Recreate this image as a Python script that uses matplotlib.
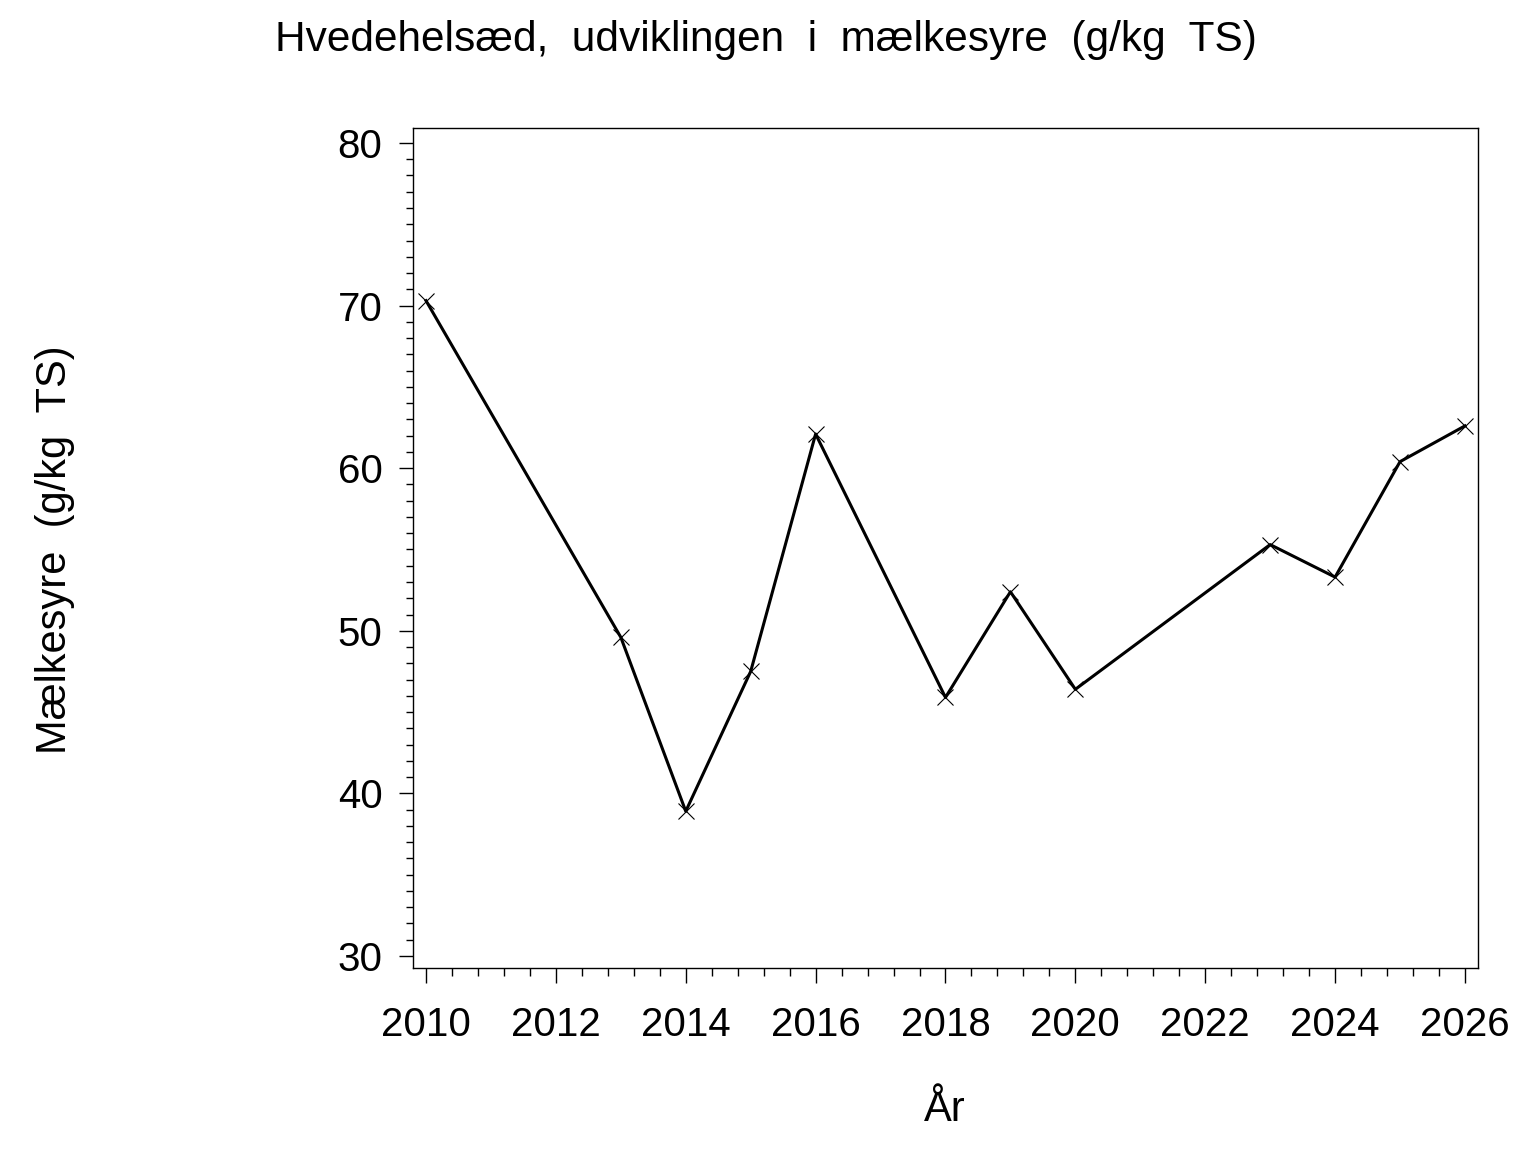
import matplotlib
matplotlib.use("Agg")
import matplotlib.pyplot as plt
from matplotlib.ticker import MultipleLocator

plt.rcParams['font.family'] = ['Liberation Sans', 'DejaVu Sans']

# data
aar = [2010, 2013, 2014, 2015, 2016, 2018, 2019, 2020, 2023, 2024, 2025, 2026]
maelkesyre = [70.3, 49.6, 38.9, 47.5, 62.1, 45.9, 52.4, 46.4, 55.3, 53.3, 60.4, 62.6]
x_ticks = [2010, 2012, 2014, 2016, 2018, 2020, 2022, 2024, 2026]
y_ticks = [30, 40, 50, 60, 70, 80]

fig = plt.figure(figsize=(15.36, 11.52), dpi=100)
ax = fig.add_axes([0.2689, 0.1597, 0.6933, 0.7292])

ax.plot(aar, maelkesyre, color="black", linewidth=2.2,
        marker="x", markersize=12, markeredgewidth=0.8)

ax.set_xlim(2009.8, 2026.2)
ax.set_ylim(29.26, 80.92)
ax.set_xticks(x_ticks)
ax.set_yticks(y_ticks)
ax.xaxis.set_minor_locator(MultipleLocator(0.4))
ax.yaxis.set_minor_locator(MultipleLocator(1))

ax.tick_params(axis="x", which="major", direction="out", length=11, width=1,
               labelsize=29, pad=16)
ax.tick_params(axis="x", which="minor", direction="out", length=5.5, width=1)
ax.tick_params(axis="y", which="major", direction="out", length=10, width=1,
               labelsize=29, pad=12)
ax.tick_params(axis="y", which="minor", direction="out", length=5, width=1)
for s in ax.spines.values():
    s.set_linewidth(1)

fig.text(0.4987, 1 - 40 / 1152, "Hvedehelsæd,  udviklingen  i  mælkesyre  (g/kg  TS)",
         ha="center", va="center", fontsize=30.5)
fig.text(55 / 1536, 1 - 550 / 1152, "Mælkesyre  (g/kg  TS)", rotation=90,
         ha="center", va="center", fontsize=30)
fig.text(945 / 1536, 1 - 1110 / 1152, "År", ha="center", va="center", fontsize=30)

fig.savefig("out.png", dpi=100)
